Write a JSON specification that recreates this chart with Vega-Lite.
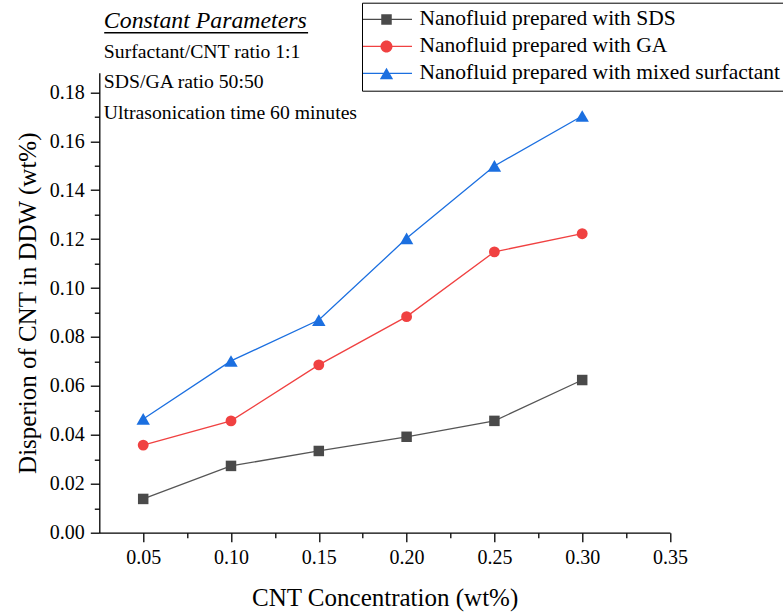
{
  "$schema": "https://vega.github.io/schema/vega-lite/v6.json",
  "width": 570.7,
  "height": 460,
  "autosize": {"type": "none"},
  "padding": {"left": 99.3, "top": 72.7, "right": 113, "bottom": 83.3},
  "background": "white",
  "config": {"view": {"stroke": null}},
  "resolve": {"axis": {"x": "independent", "y": "independent"}},
  "datasets": {
    "series": [
      {"x": 0.05, "y": 0.0138, "s": "Nanofluid prepared with SDS"},
      {"x": 0.10, "y": 0.0273, "s": "Nanofluid prepared with SDS"},
      {"x": 0.15, "y": 0.0334, "s": "Nanofluid prepared with SDS"},
      {"x": 0.20, "y": 0.0392, "s": "Nanofluid prepared with SDS"},
      {"x": 0.25, "y": 0.0457, "s": "Nanofluid prepared with SDS"},
      {"x": 0.30, "y": 0.0624, "s": "Nanofluid prepared with SDS"},
      {"x": 0.05, "y": 0.0358, "s": "Nanofluid prepared with GA"},
      {"x": 0.10, "y": 0.0457, "s": "Nanofluid prepared with GA"},
      {"x": 0.15, "y": 0.0686, "s": "Nanofluid prepared with GA"},
      {"x": 0.20, "y": 0.0883, "s": "Nanofluid prepared with GA"},
      {"x": 0.25, "y": 0.1148, "s": "Nanofluid prepared with GA"},
      {"x": 0.30, "y": 0.1222, "s": "Nanofluid prepared with GA"},
      {"x": 0.05, "y": 0.0465, "s": "Nanofluid prepared with mixed surfactant"},
      {"x": 0.10, "y": 0.0702, "s": "Nanofluid prepared with mixed surfactant"},
      {"x": 0.15, "y": 0.0869, "s": "Nanofluid prepared with mixed surfactant"},
      {"x": 0.20, "y": 0.1203, "s": "Nanofluid prepared with mixed surfactant"},
      {"x": 0.25, "y": 0.1499, "s": "Nanofluid prepared with mixed surfactant"},
      {"x": 0.30, "y": 0.1703, "s": "Nanofluid prepared with mixed surfactant"}
    ],
    "notes": [
      {"x": 0.0276, "y": 0.1939, "t": "Surfactant/CNT ratio 1:1"},
      {"x": 0.0276, "y": 0.1816, "t": "SDS/GA ratio 50:50"},
      {"x": 0.0276, "y": 0.1690, "t": "Ultrasonication time 60 minutes"}
    ],
    "heading": [{"x": 0.0276, "y": 0.2062, "t": "Constant Parameters"}],
    "underline": [{"x": 0.0278, "x2": 0.1439, "y": 0.2043}]
  },
  "layer": [
    {
      "data": {"name": "series"},
      "transform": [{"filter": "datum.s === 'Nanofluid prepared with SDS'"}],
      "mark": {"type": "line", "strokeWidth": 1.3, "color": "#555555"},
      "encoding": {
        "x": {
          "field": "x", "type": "quantitative",
          "scale": {"domain": [0.025, 0.35], "nice": false, "zero": false},
          "axis": {
            "orient": "bottom", "zindex": 1, "grid": false,
            "title": "CNT Concentration (wt%)",
            "values": [0.05, 0.1, 0.15, 0.2, 0.25, 0.3, 0.35],
            "format": ".2f",
            "domain": true, "ticks": true, "domainColor": "#000000", "tickColor": "#000000", "domainWidth": 1.3, "tickWidth": 1.3,
            "tickSize": 9, "labelPadding": 6, "titlePadding": 18,
            "labelFont": "Liberation Serif", "titleFont": "Liberation Serif", "labelFontSize": 20, "titleFontSize": 25,
            "titleFontWeight": "normal", "labelColor": "#000000", "titleColor": "#000000",
            "labelFlush": false
          }
        },
        "y": {
          "field": "y", "type": "quantitative",
          "scale": {"domain": [0, 0.188], "nice": false},
          "axis": {
            "orient": "left", "zindex": 1, "grid": false,
            "title": "Disperion of CNT in DDW (wt%)",
            "values": [0, 0.02, 0.04, 0.06, 0.08, 0.1, 0.12, 0.14, 0.16, 0.18],
            "format": ".2f",
            "domain": true, "ticks": true, "domainColor": "#000000", "tickColor": "#000000", "domainWidth": 1.3, "tickWidth": 1.3,
            "tickSize": 9, "labelPadding": 6, "titlePadding": 9,
            "labelFont": "Liberation Serif", "titleFont": "Liberation Serif", "labelFontSize": 20, "titleFontSize": 25,
            "titleFontWeight": "normal", "labelColor": "#000000", "titleColor": "#000000",
            "labelFlush": false
          }
        }
      }
    },
    {
      "data": {"name": "series"},
      "transform": [{"filter": "datum.s === 'Nanofluid prepared with GA'"}],
      "mark": {"type": "line", "strokeWidth": 1.3, "color": "#f04141"},
      "encoding": {
        "x": {"field": "x", "type": "quantitative", "scale": {"domain": [0.025, 0.35], "nice": false, "zero": false}, "axis": null},
        "y": {"field": "y", "type": "quantitative", "scale": {"domain": [0, 0.188], "nice": false}, "axis": null}
      }
    },
    {
      "data": {"name": "series"},
      "transform": [{"filter": "datum.s === 'Nanofluid prepared with mixed surfactant'"}],
      "mark": {"type": "line", "strokeWidth": 1.3, "color": "#1b6fe0"},
      "encoding": {
        "x": {"field": "x", "type": "quantitative", "scale": {"domain": [0.025, 0.35], "nice": false, "zero": false}, "axis": null},
        "y": {"field": "y", "type": "quantitative", "scale": {"domain": [0, 0.188], "nice": false}, "axis": null}
      }
    },
    {
      "data": {"name": "series"},
      "transform": [{"filter": "datum.x < 0"}],
      "mark": {"type": "point", "filled": true, "opacity": 1},
      "encoding": {
        "x": {
          "field": "x", "type": "quantitative",
          "scale": {"domain": [0.025, 0.35], "nice": false, "zero": false},
          "axis": {"orient": "bottom", "zindex": 1, "grid": false, "title": null, "values": [0.075, 0.125, 0.175, 0.225, 0.275, 0.325], "labels": false, "domain": false, "ticks": true, "tickColor": "#000000", "tickWidth": 1.3, "tickSize": 5}
        },
        "y": {
          "field": "y", "type": "quantitative",
          "scale": {"domain": [0, 0.188], "nice": false},
          "axis": {"orient": "left", "zindex": 1, "grid": false, "title": null, "values": [0.01, 0.03, 0.05, 0.07, 0.09, 0.11, 0.13, 0.15, 0.17], "labels": false, "domain": false, "ticks": true, "tickColor": "#000000", "tickWidth": 1.3, "tickSize": 5}
        },
        "color": {
          "field": "s", "type": "nominal",
          "scale": {
            "domain": ["Nanofluid prepared with SDS", "Nanofluid prepared with GA", "Nanofluid prepared with mixed surfactant"],
            "range": ["#4a4a4a", "#f04141", "#1b6fe0"]
          },
          "legend": {
            "orient": "none", "legendX": 262.7, "legendY": -70,
            "title": null, "padding": 6, "strokeColor": "black", "fillColor": "white",
            "labelFont": "Liberation Serif", "labelFontSize": 21.5, "labelColor": "black",
            "labelOffset": 30, "rowPadding": 4, "symbolSize": 400, "labelLimit": 600,
            "symbolStrokeWidth": 0, "symbolOpacity": 1
          }
        },
        "shape": {
          "field": "s", "type": "nominal",
          "scale": {
            "domain": ["Nanofluid prepared with SDS", "Nanofluid prepared with GA", "Nanofluid prepared with mixed surfactant"],
            "range": [
              "M-1.575,-0.065H3.325V0.065H-1.575ZM0.25,-0.525H1.3V0.525H0.25Z",
              "M-1.575,-0.065H3.325V0.065H-1.575ZM1.375,0A0.6,0.6 0 1,1 0.175,0A0.6,0.6 0 1,1 1.375,0Z",
              "M-1.575,-0.065H3.325V0.065H-1.575ZM0.775,-0.576L1.44,0.576H0.11Z"
            ]
          },
          "legend": {
            "orient": "none", "legendX": 262.7, "legendY": -70,
            "title": null, "padding": 6, "strokeColor": "black", "fillColor": "white",
            "labelFont": "Liberation Serif", "labelFontSize": 21.5, "labelColor": "black",
            "labelOffset": 30, "rowPadding": 4, "symbolSize": 400, "labelLimit": 600,
            "symbolStrokeWidth": 0, "symbolOpacity": 1
          }
        }
      }
    },
    {
      "data": {"name": "series"},
      "transform": [{"filter": "datum.s === 'Nanofluid prepared with SDS'"}],
      "mark": {"type": "point", "shape": "square", "size": 110, "filled": true, "opacity": 1, "color": "#4a4a4a"},
      "encoding": {
        "x": {"field": "x", "type": "quantitative", "scale": {"domain": [0.025, 0.35], "nice": false, "zero": false}, "axis": null},
        "y": {"field": "y", "type": "quantitative", "scale": {"domain": [0, 0.188], "nice": false}, "axis": null}
      }
    },
    {
      "data": {"name": "series"},
      "transform": [{"filter": "datum.s === 'Nanofluid prepared with GA'"}],
      "mark": {"type": "point", "shape": "circle", "size": 118, "filled": true, "opacity": 1, "color": "#f04141"},
      "encoding": {
        "x": {"field": "x", "type": "quantitative", "scale": {"domain": [0.025, 0.35], "nice": false, "zero": false}, "axis": null},
        "y": {"field": "y", "type": "quantitative", "scale": {"domain": [0, 0.188], "nice": false}, "axis": null}
      }
    },
    {
      "data": {"name": "series"},
      "transform": [{"filter": "datum.s === 'Nanofluid prepared with mixed surfactant'"}],
      "mark": {"type": "point", "shape": "triangle-up", "size": 180, "filled": true, "opacity": 1, "color": "#1b6fe0"},
      "encoding": {
        "x": {"field": "x", "type": "quantitative", "scale": {"domain": [0.025, 0.35], "nice": false, "zero": false}, "axis": null},
        "y": {"field": "y", "type": "quantitative", "scale": {"domain": [0, 0.188], "nice": false}, "axis": null}
      }
    },
    {
      "data": {"name": "notes"},
      "mark": {"type": "text", "align": "left", "baseline": "alphabetic", "font": "Liberation Serif", "fontSize": 19.7, "color": "black"},
      "encoding": {
        "x": {"field": "x", "type": "quantitative", "scale": {"domain": [0.025, 0.35], "nice": false, "zero": false}, "axis": null},
        "y": {"field": "y", "type": "quantitative", "scale": {"domain": [0, 0.188], "nice": false}, "axis": null},
        "text": {"field": "t"}
      }
    },
    {
      "data": {"name": "heading"},
      "mark": {"type": "text", "align": "left", "baseline": "alphabetic", "font": "Liberation Serif", "fontSize": 23.8, "fontStyle": "italic", "color": "black"},
      "encoding": {
        "x": {"field": "x", "type": "quantitative", "scale": {"domain": [0.025, 0.35], "nice": false, "zero": false}, "axis": null},
        "y": {"field": "y", "type": "quantitative", "scale": {"domain": [0, 0.188], "nice": false}, "axis": null},
        "text": {"field": "t"}
      }
    },
    {
      "data": {"name": "underline"},
      "mark": {"type": "rule", "color": "black", "strokeWidth": 1.4},
      "encoding": {
        "x": {"field": "x", "type": "quantitative", "scale": {"domain": [0.025, 0.35], "nice": false, "zero": false}, "axis": null},
        "x2": {"field": "x2"},
        "y": {"field": "y", "type": "quantitative", "scale": {"domain": [0, 0.188], "nice": false}, "axis": null}
      }
    }
  ]
}
